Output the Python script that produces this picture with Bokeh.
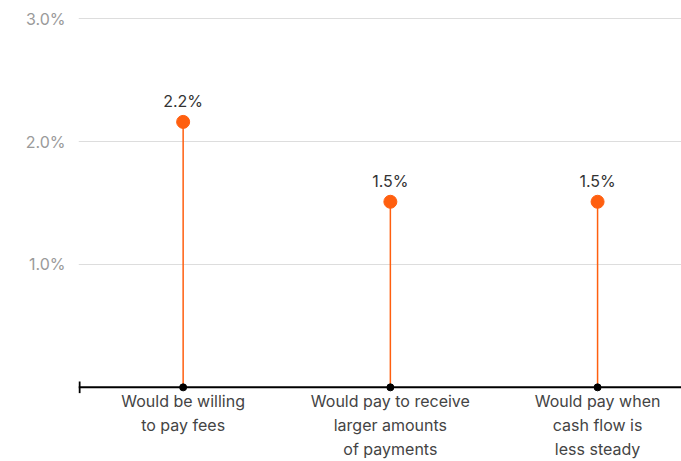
from bokeh.plotting import figure
from bokeh.models import FixedTicker, Span, ColumnDataSource, Range1d
from bokeh.core.properties import value
from bokeh.embed import file_html
from bokeh.resources import INLINE

categories = ["Would be willing\nto pay fees",
              "Would pay to receive\nlarger amounts\nof payments",
              "Would pay when\ncash flow is\nless steady"]
values = [2.16, 1.51, 1.51]
value_labels = ["2.2%", "1.5%", "1.5%"]
y_ticks = [1.0, 2.0, 3.0]
y_tick_labels = ["1.0%", "2.0%", "3.0%"]

FONT = "Inter"
ORANGE = "#FF5F0F"

xs = list(range(len(categories)))
src = ColumnDataSource(dict(x=xs, y=values, zero=[0] * len(xs), lab=value_labels))

p = figure(width=681, height=461, output_backend="svg", toolbar_location=None,
           x_range=Range1d(-0.505, 2.405), y_range=Range1d(-0.05, 3.05),
           min_border_left=78, min_border_right=0, min_border_top=12, min_border_bottom=60)
p.outline_line_color = None
p.background_fill_color = "white"
p.border_fill_color = "white"

# grid
p.xgrid.visible = False
p.ygrid.ticker = FixedTicker(ticks=y_ticks)
p.ygrid.grid_line_color = "#dddddd"
p.ygrid.grid_line_width = 1

# y axis
p.yaxis.ticker = FixedTicker(ticks=y_ticks)
p.yaxis.major_label_overrides = {t: l for t, l in zip(y_ticks, y_tick_labels)}
p.yaxis.axis_line_color = None
p.yaxis.major_tick_line_color = None
p.yaxis.minor_tick_line_color = None
p.yaxis.major_label_text_color = "#9a9a9a"
p.yaxis.major_label_text_font = FONT
p.yaxis.major_label_text_font_size = "16px"
p.yaxis.major_label_standoff = 7

# x axis
p.xaxis.ticker = FixedTicker(ticks=xs)
p.xaxis.major_label_overrides = {x: c for x, c in zip(xs, categories)}
p.xaxis.axis_line_color = None
p.xaxis.major_tick_line_color = None
p.xaxis.minor_tick_line_color = None
p.xaxis.major_label_text_color = "#444444"
p.xaxis.major_label_text_font = FONT
p.xaxis.major_label_text_font_size = "16px"
p.xaxis.major_label_standoff = -9

# baseline
p.add_layout(Span(location=0, dimension="width", line_color="black", line_width=2))
p.segment(x0=[-0.5], y0=[-0.048], x1=[-0.5], y1=[0.048], line_color="black", line_width=2)

# stems
p.segment(x0="x", y0="zero", x1="x", y1="y", source=src, line_color=ORANGE, line_width=1.5)
p.scatter(x="x", y="zero", source=src, size=7, color="black")
p.scatter(x="x", y="y", source=src, size=13, color=ORANGE)
p.text(x="x", y="y", text="lab", source=src, text_align="center", text_baseline="bottom",
       y_offset=-11, text_font=value(FONT), text_font_size="16px", text_color="#333333")

open("out.html", "w").write(file_html(p, INLINE))
